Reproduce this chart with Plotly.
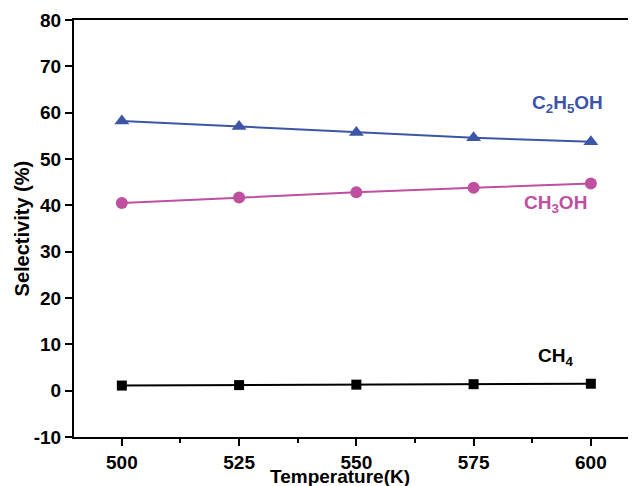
import plotly.graph_objects as go

temperature = [500, 525, 550, 575, 600]
c2h5oh = [58.2, 57.0, 55.7, 54.6, 53.7]
ch3oh = [40.5, 41.7, 42.8, 43.8, 44.7]
ch4 = [1.1, 1.2, 1.3, 1.4, 1.5]

x_ticks = [500, 525, 550, 575, 600]
y_ticks = [-10, 0, 10, 20, 30, 40, 50, 60, 70, 80]

BLUE = "#3c55a6"
MAG = "#bf4f9f"
FONT = "Liberation Sans, Arial, sans-serif"

fig = go.Figure()
fig.add_trace(go.Scatter(x=temperature, y=c2h5oh, mode="lines+markers",
                         line=dict(color=BLUE, width=2),
                         marker=dict(symbol="triangle-up", size=13, color=BLUE)))
fig.add_trace(go.Scatter(x=temperature, y=ch3oh, mode="lines+markers",
                         line=dict(color=MAG, width=2),
                         marker=dict(symbol="circle", size=12, color=MAG)))
fig.add_trace(go.Scatter(x=temperature, y=ch4, mode="lines+markers",
                         line=dict(color="black", width=2),
                         marker=dict(symbol="square", size=10, color="black")))

annots = [
    dict(x=595, y=61.8, text="<b>C<sub>2</sub>H<sub>5</sub>OH</b>", color=BLUE),
    dict(x=592.5, y=40.3, text="<b>CH<sub>3</sub>OH</b>", color=MAG),
    dict(x=592.5, y=7.3, text="<b>CH<sub>4</sub></b>", color="black"),
]
for a in annots:
    fig.add_annotation(x=a["x"], y=a["y"], text=a["text"], showarrow=False,
                       xref="x", yref="y",
                       font=dict(family=FONT, size=19, color=a["color"]))

# axis titles
fig.add_annotation(x=0.475, y=-0.095, xref="paper", yref="paper", yanchor="middle",
                   text="<b>Temperature(K)</b>", showarrow=False,
                   font=dict(family=FONT, size=19, color="black"))
fig.add_annotation(x=-0.093, y=0.5, xref="paper", yref="paper", xanchor="center",
                   text="<b>Selectivity (%)</b>", showarrow=False, textangle=-90,
                   font=dict(family=FONT, size=20, color="black"))

fig.update_layout(
    width=628, height=478,
    margin=dict(l=66, r=2, t=12, b=49),
    paper_bgcolor="white", plot_bgcolor="white",
    showlegend=False,
    font=dict(family=FONT, color="black"),
)
fig.update_xaxes(
    range=[489.8, 609.2], tickvals=x_ticks, ticktext=[f"<b>{v}</b>" for v in x_ticks],
    ticks="outside", ticklen=7, tickwidth=2, tickcolor="black",
    showline=True, linewidth=2, linecolor="black", mirror=True,
    showgrid=False, zeroline=False, automargin=False,
    tickfont=dict(family=FONT, size=19, color="black"),
    minor=dict(tickvals=[512.5, 537.5, 562.5, 587.5], ticks="outside", ticklen=4,
               tickwidth=2, tickcolor="black"),
)
fig.update_yaxes(
    range=[-10, 80], tickvals=y_ticks, ticktext=[f"<b>{v}</b>" for v in y_ticks],
    ticks="outside", ticklen=7, tickwidth=2, tickcolor="black",
    showline=True, linewidth=2, linecolor="black", mirror=True,
    showgrid=False, zeroline=False, automargin=False,
    tickfont=dict(family=FONT, size=19, color="black"),
)

fig.write_html("out.html")
